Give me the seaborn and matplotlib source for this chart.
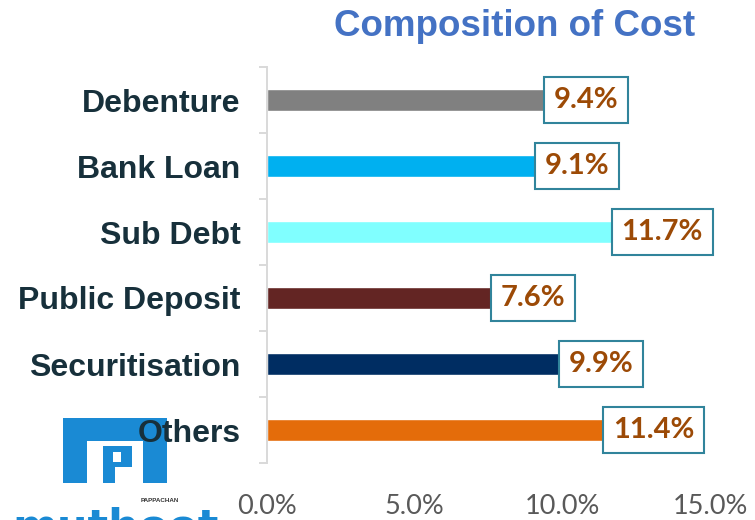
import matplotlib
matplotlib.use('Agg')
import matplotlib.pyplot as plt
import matplotlib.patches as mpatches
from matplotlib.ticker import FixedLocator, FuncFormatter
import seaborn as sns
import pandas as pd

# data
categories = ['Debenture', 'Bank Loan', 'Sub Debt', 'Public Deposit', 'Securitisation', 'Others']
cost_pct = [9.4, 9.1, 11.7, 7.6, 9.9, 11.4]
bar_colors = ['#808080', '#00B0F0', '#80FFFF', '#632523', '#002D62', '#E46C0A']
x_ticks = [0, 5, 10, 15]

df = pd.DataFrame({'Source': categories, 'Cost': cost_pct})

sns.set_style('white')
plt.rcParams['font.family'] = ['Liberation Sans', 'DejaVu Sans']

W, H = 755, 520
fig = plt.figure(figsize=(W / 100, H / 100), dpi=100)

def fx(px):
    return px / W

def fy(py):
    return 1 - py / H

ax = fig.add_axes([fx(267), fy(463), fx(710) - fx(267), fy(67) - fy(463)])

sns.barplot(data=df, x='Cost', y='Source', hue='Source', palette=bar_colors,
            width=0.33, legend=False, ax=ax, saturation=1, orient='h')

ax.set_xlim(0, 15)
ax.set_ylim(5.5, -0.5)
ax.set_xlabel('')
ax.set_ylabel('')

# ticks
ax.xaxis.set_major_locator(FixedLocator(x_ticks))
ax.xaxis.set_major_formatter(FuncFormatter(lambda v, p: f'{v:.1f}%'))
ax.tick_params(axis='x', length=0, pad=22, labelsize=19.5, labelcolor='#595959')
for lab in ax.get_xticklabels():
    lab.set_fontfamily(['Lato', 'DejaVu Sans'])

ax.yaxis.set_minor_locator(FixedLocator([i - 0.5 for i in range(len(categories) + 1)]))
ax.tick_params(axis='y', which='major', length=0, pad=19, labelsize=23, labelcolor='#17303B')
ax.tick_params(axis='y', which='minor', length=6, width=1.4, color='#D9D9D9', left=True)
for lab in ax.get_yticklabels():
    lab.set_fontweight('bold')

for s in ['top', 'right', 'bottom']:
    ax.spines[s].set_visible(False)
ax.spines['left'].set_color('#D9D9D9')
ax.spines['left'].set_linewidth(1.4)

# value labels in boxes
for i, v in enumerate(cost_pct):
    ax.annotate(f'{v:.1f}%', xy=(v, i), xytext=(6.5, 0), textcoords='offset points',
                ha='left', va='center', fontsize=21, fontweight='bold',
                color='#9C4A06', family=['Lato', 'DejaVu Sans'], annotation_clip=False,
                bbox=dict(boxstyle='square,pad=0.33', fc='white', ec='#31849B', lw=1.5))

# title
fig.text(fx(515), fy(26), 'Composition of Cost', ha='center', va='center',
         fontsize=26.5, fontweight='bold', color='#4472C4')

# rough logo, bottom left
logo_blue = '#1A8AD4'
logo_parts = [(63, 418, 87, 483), (63, 418, 167, 441), (143, 418, 167, 483),
              (103, 446, 115, 483), (103, 446, 132, 467)]
for x0, y0, x1, y1 in logo_parts:
    fig.add_artist(mpatches.Rectangle((fx(x0), fy(y1)), fx(x1) - fx(x0), fy(y0) - fy(y1),
                                      transform=fig.transFigure, fc=logo_blue, ec='none', zorder=0))
fig.add_artist(mpatches.Rectangle((fx(113), fy(462)), fx(8), fy(452) - fy(462),
                                  transform=fig.transFigure, fc='white', ec='none', zorder=0))
fig.text(fx(12), fy(506), 'muthoot', ha='left', va='top', fontsize=31,
         fontweight='bold', color=logo_blue, family='DejaVu Sans', zorder=0)
fig.text(fx(160), fy(501), 'PAPPACHAN', ha='center', va='center', fontsize=4.5,
         fontweight='bold', color='#333333', zorder=1)

fig.savefig('out.png', dpi=100)
